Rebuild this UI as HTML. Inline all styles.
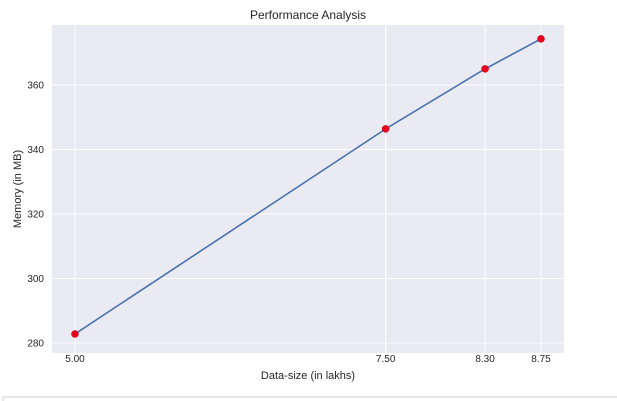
<!DOCTYPE html>
<html><head><meta charset="utf-8"><style>
body{margin:0;background:#fff;width:617px;height:401px;overflow:hidden;font-family:"Liberation Sans",sans-serif;}
</style></head><body>
<svg width="617" height="401" style="position:absolute;left:0;top:0">
<g id="plot"></g>
<rect x="3" y="397" width="620" height="10" fill="#fff" stroke="#ccc"/>
</svg>
<script>
const xValues=[5.00,7.50,8.30,8.75];
const yValues=[282.8,346.4,365.0,374.3];
const xTicks=[5.00,7.50,8.30,8.75];
const xTickLabels=["5.00","7.50","8.30","8.75"];
const yTicks=[280,300,320,340,360];
const L=52,R=564,T=25,B=353;
const xMin=4.815,xMax=8.935,yMin=276.9,yMax=378.6;
const sx=v=>L+(v-xMin)/(xMax-xMin)*(R-L);
const sy=v=>B-(v-yMin)/(yMax-yMin)*(B-T);
const NS="http://www.w3.org/2000/svg";
const g=document.getElementById('plot');
function mk(t,a,txt){const e=document.createElementNS(NS,t);for(const k in a)e.setAttribute(k,a[k]);if(txt!==undefined)e.textContent=txt;g.appendChild(e);return e;}
let e=mk('rect',{x:L,y:T,width:R-L,height:B-T,fill:'#eaeaf2'});


xTicks.forEach((v,i)=>{
 let l=mk('line',{x1:sx(v),x2:sx(v),y1:T,y2:B,stroke:'#fff','stroke-width':1});
 
 
 let t=mk('text',{x:sx(v),y:B+9,'font-size':10,'text-anchor':'middle',fill:'#262626'},xTickLabels[i]);
 
 
});
yTicks.forEach(v=>{
 let l=mk('line',{x1:L,x2:R,y1:sy(v),y2:sy(v),stroke:'#fff','stroke-width':1});
 
 
 let t=mk('text',{x:L-8,y:sy(v)+3.5,'font-size':10,'text-anchor':'end',fill:'#262626'},String(v));
 
 
});
let p=mk('polyline',{points:xValues.map((x,i)=>sx(x)+','+sy(yValues[i])).join(' '),fill:'none',stroke:'#4c72b0','stroke-width':1.6});


xValues.forEach((x,i)=>{
 let c=mk('circle',{cx:sx(x),cy:sy(yValues[i]),r:3.5,fill:'#e8001c',stroke:'#b00010','stroke-width':0.5});
 
 
});
let t1=mk('text',{x:(L+R)/2,y:19,'font-size':12,'text-anchor':'middle',fill:'#262626'},'Performance Analysis');


let t2=mk('text',{x:(L+R)/2,y:379,'font-size':11,'text-anchor':'middle',fill:'#262626'},'Data-size (in lakhs)');


let t3=mk('text',{x:21,y:(T+B)/2,'font-size':11,'text-anchor':'middle',fill:'#262626',transform:'rotate(-90 21 '+((T+B)/2)+')'},'Memory (in MB)');


</script>
</body></html>
